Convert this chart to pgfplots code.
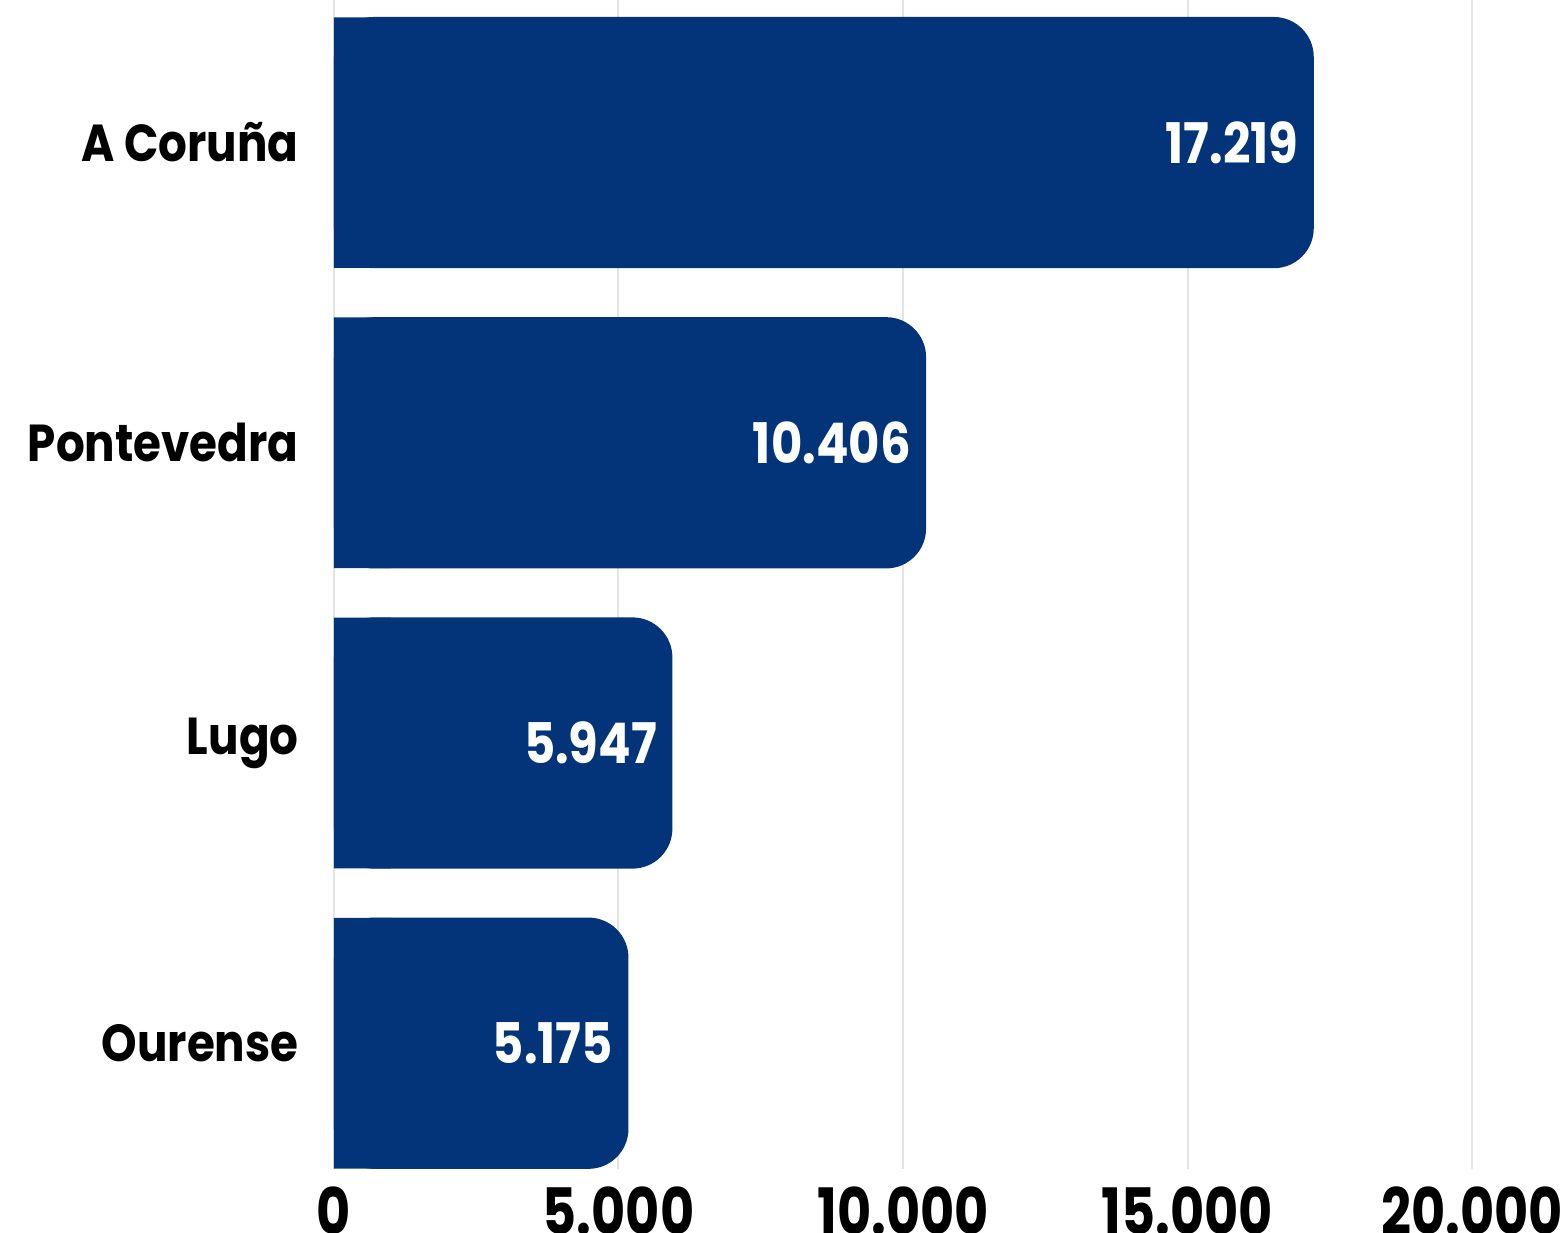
\documentclass[border=0pt]{standalone}
\usepackage{fontspec}
\setmainfont{Poppins}
\newfontfamily\catfont[FakeStretch=0.87]{Poppins}
\newfontfamily\valfont[FakeStretch=0.86]{Poppins}
\newfontfamily\tickfont[FakeStretch=0.82]{Poppins}
\usepackage{pgfplots}
\pgfplotsset{compat=1.18}
\definecolor{barblue}{RGB}{3,52,122}
\definecolor{gridgray}{RGB}{228,228,228}
\begin{document}
\begin{tikzpicture}
\begin{axis}[
  scale only axis,
  width=569pt, height=584.35pt,
  xbar,
  xmin=0, xmax=20000,
  ymin=-0.418, ymax=3.475,
  axis line style={draw=none},
  major tick length=0pt,
  xtick={0,5000,10000,15000,20000},
  xticklabels={0,5.000,10.000,15.000,20.000},
  ytick={0,1,2,3},
  yticklabels={Ourense,Lugo,Pontevedra,A Coruña},
  xmajorgrids,
  major grid style={gridgray, line width=1pt},
  yticklabel style={font=\catfont\bfseries\fontsize{26}{30}\selectfont, inner sep=0pt, anchor=east, xshift=-17.5pt},
  xticklabel style={font=\tickfont\bfseries\fontsize{32}{36}\selectfont, inner sep=0pt, anchor=north, yshift=-9pt},
  bar width=0.837,
  clip=false,
]
\addplot[draw=none, fill=barblue, bar shift=0pt, rounded corners=20pt,
  point meta=explicit symbolic,
  nodes near coords,
  every node near coord/.append style={anchor=east, inner sep=0pt, xshift=-7.5pt, text=white, font=\valfont\bfseries\fontsize{28}{32}\selectfont}]
  coordinates {(5175,0) [5.175] (5947,1) [5.947] (10406,2) [10.406] (17219,3) [17.219]};
\addplot[draw=none, fill=barblue, bar shift=0pt, bar width=0.835]
  coordinates {(1000,0) (1000,1) (1000,2) (1000,3)};
\end{axis}
\pgfresetboundingbox
\path (-167pt,-31.65pt) rectangle (617pt,584.35pt);
\end{tikzpicture}
\end{document}
